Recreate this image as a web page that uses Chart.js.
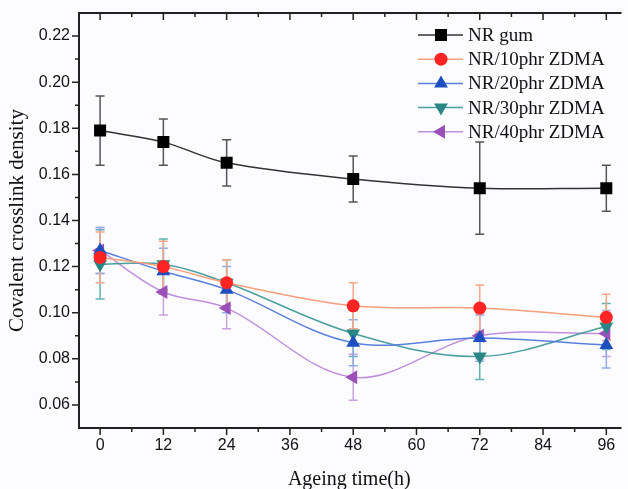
<!DOCTYPE html>
<html>
<head>
<meta charset="utf-8">
<script src="https://cdn.jsdelivr.net/npm/chart.js@4"></script>
<style>
html, body { margin: 0; padding: 0; background: #fcfcff; overflow: hidden; }
</style>
</head>
<body>
<canvas id="crosslinkChart" width="628" height="489"></canvas>
<script>
// ===== DATA =====
const hours = [0, 12, 24, 48, 72, 96];
const seriesNames = ['NR gum', 'NR/10phr ZDMA', 'NR/20phr ZDMA', 'NR/30phr ZDMA', 'NR/40phr ZDMA'];

const nrGum = [0.179, 0.174, 0.165, 0.158, 0.154, 0.154];
const nrGumErr = [0.015, 0.010, 0.010, 0.010, 0.020, 0.010];
const zdma10 = [0.124, 0.120, 0.113, 0.103, 0.102, 0.098];
const zdma10Err = [0.011, 0.011, 0.010, 0.010, 0.010, 0.010];
const zdma20 = [0.127, 0.118, 0.110, 0.087, 0.089, 0.086];
const zdma20Err = [0.010, 0.010, 0.010, 0.010, 0.010, 0.010];
const zdma30 = [0.121, 0.121, 0.113, 0.091, 0.081, 0.094];
const zdma30Err = [0.015, 0.011, 0.010, 0.010, 0.010, 0.010];
const zdma40 = [0.127, 0.109, 0.102, 0.072, 0.090, 0.091];
const zdma40Err = [0.010, 0.010, 0.009, 0.010, 0.010, 0.010];

const xTicks = [0, 6, 12, 18, 24, 30, 36, 42, 48, 54, 60, 66, 72, 78, 84, 90, 96];
const yTicks = [0.06, 0.07, 0.08, 0.09, 0.10, 0.11, 0.12, 0.13, 0.14, 0.15, 0.16, 0.17, 0.18, 0.19, 0.20, 0.21, 0.22];

// ===== STYLE =====
const styles = [
  { line: '#333333', point: '#000000', err: '#555555', shape: 'rect', radius: 8.5, rot: 0 },
  { line: '#f5a07a', point: '#ff2424', err: '#f7a888', shape: 'circle', radius: 6.5, rot: 0 },
  { line: '#5a80dd', point: '#1f4fbf', err: '#8eaae8', shape: 'triangle', radius: 8, rot: 0 },
  { line: '#4a9e9e', point: '#2a8585', err: '#62b2b2', shape: 'triangle', radius: 8, rot: 180 },
  { line: '#c090dc', point: '#9a50b8', err: '#c8a2e2', shape: 'triangle', radius: 8, rot: 270 }
];
const values = [nrGum, zdma10, zdma20, zdma30, zdma40];
const errors = [nrGumErr, zdma10Err, zdma20Err, zdma30Err, zdma40Err];

const datasets = seriesNames.map((name, i) => ({
  label: name,
  data: hours.map((h, j) => ({ x: h, y: values[i][j] })),
  err: errors[i],
  errColor: styles[i].err,
  borderColor: styles[i].line,
  borderWidth: 1.5,
  backgroundColor: styles[i].point,
  pointBackgroundColor: styles[i].point,
  pointBorderColor: styles[i].point,
  pointBorderWidth: 0,
  pointStyle: styles[i].shape,
  pointRadius: styles[i].radius,
  pointRotation: styles[i].rot,
  tension: 0.35,
  fill: false
}));

// ===== PLUGINS =====
const errorBars = {
  id: 'errorBars',
  beforeDatasetsDraw(chart) {
    const { ctx, scales: { x, y } } = chart;
    for (let i = chart.data.datasets.length - 1; i >= 0; i--) {
      const ds = chart.data.datasets[i];
      ctx.save();
      ctx.strokeStyle = ds.errColor;
      ctx.lineWidth = 1.5;
      ds.data.forEach((p, j) => {
        const px = x.getPixelForValue(p.x);
        const top = y.getPixelForValue(p.y + ds.err[j]);
        const bot = y.getPixelForValue(p.y - ds.err[j]);
        ctx.beginPath();
        ctx.moveTo(px, top); ctx.lineTo(px, bot);
        ctx.moveTo(px - 4.5, top); ctx.lineTo(px + 4.5, top);
        ctx.moveTo(px - 4.5, bot); ctx.lineTo(px + 4.5, bot);
        ctx.stroke();
      });
      ctx.restore();
    }
  }
};

const frameTicks = {
  id: 'frameTicks',
  afterDatasetsDraw(chart) {
    const { ctx, chartArea: a, scales: { x, y } } = chart;
    ctx.save();
    ctx.strokeStyle = '#222';
    ctx.lineWidth = 2;
    ctx.beginPath();
    ctx.moveTo(a.right + 2, a.top); ctx.lineTo(a.left, a.top);
    ctx.lineTo(a.left, a.bottom); ctx.lineTo(a.right + 2, a.bottom);
    ctx.stroke();
    ctx.lineWidth = 1.5;
    ctx.beginPath();
    xTicks.forEach(v => {
      const px = x.getPixelForValue(v);
      const len = v % 12 === 0 ? 7 : 4;
      ctx.moveTo(px, a.bottom); ctx.lineTo(px, a.bottom + len);
      ctx.moveTo(px, a.top); ctx.lineTo(px, a.top + len);
    });
    yTicks.forEach(v => {
      const py = y.getPixelForValue(v);
      const len = Math.round(v * 100) % 2 === 0 ? 7 : 4;
      ctx.moveTo(a.left, py); ctx.lineTo(a.left - len, py);
    });
    ctx.stroke();
    ctx.restore();
  }
};

const insideLegend = {
  id: 'insideLegend',
  afterDraw(chart) {
    const { ctx } = chart;
    ctx.save();
    chart.data.datasets.forEach((ds, i) => {
      const ly = 35 + i * 24.2;
      ctx.strokeStyle = ds.borderColor;
      ctx.lineWidth = 1.5;
      ctx.beginPath(); ctx.moveTo(418, ly); ctx.lineTo(463, ly); ctx.stroke();
      ctx.fillStyle = ds.pointBackgroundColor;
      Chart.helpers.drawPoint(ctx, {
        pointStyle: ds.pointStyle, radius: ds.pointRadius, rotation: ds.pointRotation, borderWidth: 0
      }, 441, ly);
      ctx.fillStyle = '#111';
      ctx.font = '19px "Liberation Serif"';
      ctx.textBaseline = 'middle';
      ctx.fillText(ds.label, 468, ly + 1);
    });
    ctx.restore();
  }
};

// ===== CHART =====
new Chart(document.getElementById('crosslinkChart'), {
  type: 'line',
  data: { datasets },
  options: {
    responsive: false,
    animation: false,
    layout: { padding: { top: 13, right: 0, bottom: 0, left: 0 } },
    plugins: { legend: { display: false }, tooltip: { enabled: false } },
    scales: {
      x: {
        type: 'linear', min: -4, max: 98.5,
        afterBuildTicks: s => { s.ticks = xTicks.map(v => ({ value: v })); },
        afterFit: s => { s.height = 61; },
        grid: { display: false }, border: { display: false },
        ticks: {
          autoSkip: false, maxRotation: 0, padding: 0, color: '#111',
          font: { family: 'Liberation Sans', size: 16 },
          callback: v => (v % 12 === 0 ? String(v) : '')
        },
        title: {
          display: true, text: 'Ageing time(h)', color: '#111',
          font: { family: 'Liberation Serif', size: 20 }, padding: { top: 0, bottom: -3 }
        }
      },
      y: {
        type: 'linear', min: 0.05, max: 0.23,
        afterBuildTicks: s => { s.ticks = yTicks.map(v => ({ value: v })); },
        afterFit: s => { s.width = 79; },
        grid: { display: false }, border: { display: false },
        ticks: {
          autoSkip: false, padding: 1, color: '#111',
          font: { family: 'Liberation Sans', size: 16 },
          callback: v => (Math.round(v * 100) % 2 === 0 ? v.toFixed(2) : '')
        },
        title: {
          display: true, text: 'Covalent crosslink density', color: '#111',
          font: { family: 'Liberation Serif', size: 21 }, padding: { top: 5, bottom: 0 }
        }
      }
    }
  },
  plugins: [errorBars, frameTicks, insideLegend]
});
</script>
</body>
</html>
